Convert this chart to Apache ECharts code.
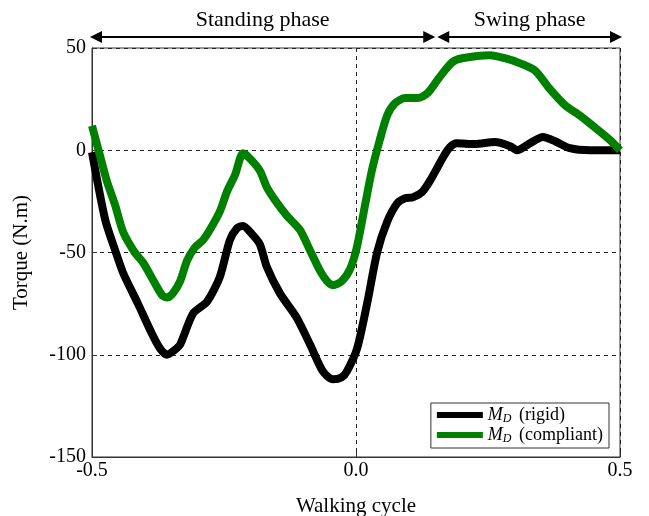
<!DOCTYPE html>
<html>
<head>
<meta charset="utf-8">
<script src="https://cdn.jsdelivr.net/npm/echarts@6/dist/echarts.min.js"></script>
<style>
  html, body { margin: 0; padding: 0; background: #fff; }
  #chart { width: 649px; height: 516px; }
</style>
</head>
<body>
<div id="chart"></div>
<script>
// walking cycle vs torque
const rigidCycle = [-0.5, -0.475, -0.456, -0.441, -0.413, -0.386, -0.371, -0.358, -0.345, -0.333, -0.309, -0.282, -0.258, -0.239, -0.225, -0.214, -0.197, -0.182, -0.169, -0.144, -0.112, -0.087, -0.063, -0.044, -0.027, -0.017, 0.002, 0.021, 0.040, 0.059, 0.078, 0.093, 0.108, 0.125, 0.140, 0.165, 0.178, 0.191, 0.225, 0.263, 0.292, 0.305, 0.330, 0.354, 0.377, 0.405, 0.443, 0.5];
const rigidTorque = [-1, -34, -49, -60, -75, -90, -97, -100, -98, -95, -80, -74, -62, -44, -38, -37, -41, -46, -57, -70, -82, -95, -108, -112, -111, -108, -97, -75, -50, -35, -26, -23.5, -23, -20.5, -15, -3.4, 1.5, 3.4, 3, 4, 2, 0, 3.5, 6.5, 4.4, 1, 0, 0];

const compliantCycle = [-0.5, -0.485, -0.472, -0.456, -0.441, -0.419, -0.403, -0.381, -0.367, -0.358, -0.347, -0.333, -0.320, -0.305, -0.290, -0.277, -0.258, -0.244, -0.229, -0.214, -0.201, -0.182, -0.169, -0.153, -0.131, -0.106, -0.087, -0.068, -0.055, -0.044, -0.027, -0.011, 0.002, 0.017, 0.030, 0.045, 0.059, 0.074, 0.093, 0.117, 0.136, 0.159, 0.182, 0.201, 0.254, 0.282, 0.311, 0.339, 0.367, 0.396, 0.424, 0.453, 0.481, 0.5];
const compliantTorque = [12, -2.5, -15, -27, -40, -50, -55, -65, -71, -72, -70, -64, -54, -47.5, -44, -39, -30, -20, -12, -1.5, -4, -10, -18, -24.5, -32, -39, -49, -59, -64, -66, -64, -58, -47, -27, -10, 5, 17, 23, 25.5, 25.5, 28, 36, 43, 45, 46.5, 45, 42.5, 39, 30, 22, 17, 11, 5, 0];

const seriesNames = ['MD (rigid)', 'MD (compliant)'];
const seriesColors = ['#000000', '#008000'];

const phaseBounds = [-0.5, 0.152, 0.5];
const phaseLabels = ['Standing phase', 'Swing phase'];

const xTicks = [-0.5, 0, 0.5];
const yTicks = [-150, -100, -50, 0, 50];

const FONT = 'Liberation Serif';

function zip(xs, ys) {
  return xs.map((x, i) => [x, ys[i]]);
}

const chart = echarts.init(document.getElementById('chart'), null, { renderer: 'canvas' });

const option = {
  backgroundColor: '#fff',
  animation: false,
  grid: {
    left: 92, right: 29, top: 48, bottom: 59,
    outerBoundsMode: 'none',
    show: true, borderColor: '#333', borderWidth: 1
  },
  legend: {
    orient: 'vertical',
    right: 40, bottom: 68,
    icon: 'rect',
    itemWidth: 46, itemHeight: 6, itemGap: 1,
    padding: [3, 6, 3, 6],
    borderColor: '#333', borderWidth: 1, borderRadius: 0,
    backgroundColor: '#fff',
    data: seriesNames,
    formatter: name => '{m|M}{d|D} ' + name.slice(3),
    textStyle: {
      fontFamily: FONT, fontSize: 18, color: '#000',
      rich: {
        m: { fontFamily: FONT, fontStyle: 'italic', fontSize: 18, color: '#000' },
        d: { fontFamily: FONT, fontStyle: 'italic', fontSize: 12, color: '#000', padding: [8, 3, 0, 0] }
      }
    }
  },
  xAxis: {
    type: 'value',
    min: xTicks[0], max: xTicks[xTicks.length - 1], interval: 0.5,
    name: 'Walking cycle', nameLocation: 'middle', nameGap: 39,
    nameTextStyle: { fontFamily: FONT, fontSize: 21, color: '#000' },
    axisLine: { onZero: false, lineStyle: { color: '#333', width: 1 } },
    axisTick: { inside: true, length: 5, lineStyle: { color: '#333' } },
    axisLabel: { formatter: v => v.toFixed(1), fontFamily: FONT, fontSize: 20, color: '#000', margin: 4 },
    splitLine: { show: true, lineStyle: { type: [4, 4], color: '#222', width: 1 } }
  },
  yAxis: {
    type: 'value',
    min: yTicks[0], max: yTicks[yTicks.length - 1], interval: 50,
    name: 'Torque (N.m)', nameLocation: 'middle', nameGap: 60, nameRotate: 90,
    nameTextStyle: { fontFamily: FONT, fontSize: 21, color: '#000' },
    axisLine: { show: true, onZero: false, lineStyle: { color: '#333', width: 1 } },
    axisTick: { show: true, inside: true, length: 5, lineStyle: { color: '#333' } },
    axisLabel: { fontFamily: FONT, fontSize: 20, color: '#000', margin: 6 },
    splitLine: { show: true, lineStyle: { type: [4, 4], color: '#222', width: 1 } }
  },
  series: [
    {
      name: seriesNames[0], type: 'line', data: zip(rigidCycle, rigidTorque),
      showSymbol: false, smooth: 0.25, color: seriesColors[0],
      lineStyle: { width: 8, color: seriesColors[0] }
    },
    {
      name: seriesNames[1], type: 'line', data: zip(compliantCycle, compliantTorque),
      showSymbol: false, smooth: 0.25, color: seriesColors[1],
      lineStyle: { width: 8, color: seriesColors[1] }
    }
  ]
};

chart.setOption(option);

// phase arrows above the plot
function drawPhases() {
  const elems = [];
  const top = yTicks[yTicks.length - 1];
  for (let i = 0; i < phaseLabels.length; i++) {
    const a = chart.convertToPixel({ gridIndex: 0 }, [phaseBounds[i], top]);
    const b = chart.convertToPixel({ gridIndex: 0 }, [phaseBounds[i + 1], top]);
    const y = a[1] - 11;
    const x0 = a[0] - 2 + (i > 0 ? 3 : 0);
    const x1 = b[0] + (i === phaseLabels.length - 1 ? 2 : -1);
    elems.push({ type: 'line', shape: { x1: x0 + 8, y1: y, x2: x1 - 8, y2: y }, style: { stroke: '#000', lineWidth: 2 } });
    elems.push({ type: 'polygon', shape: { points: [[x0, y], [x0 + 12, y - 6], [x0 + 12, y + 6]] }, style: { fill: '#000' } });
    elems.push({ type: 'polygon', shape: { points: [[x1, y], [x1 - 12, y - 6], [x1 - 12, y + 6]] }, style: { fill: '#000' } });
    elems.push({
      type: 'text', x: (x0 + x1) / 2, y: y - 17,
      style: { text: phaseLabels[i], fill: '#000', font: '22px "' + FONT + '"', align: 'center', verticalAlign: 'middle' }
    });
  }
  chart.setOption({ graphic: elems });
}

drawPhases();
</script>
</body>
</html>
